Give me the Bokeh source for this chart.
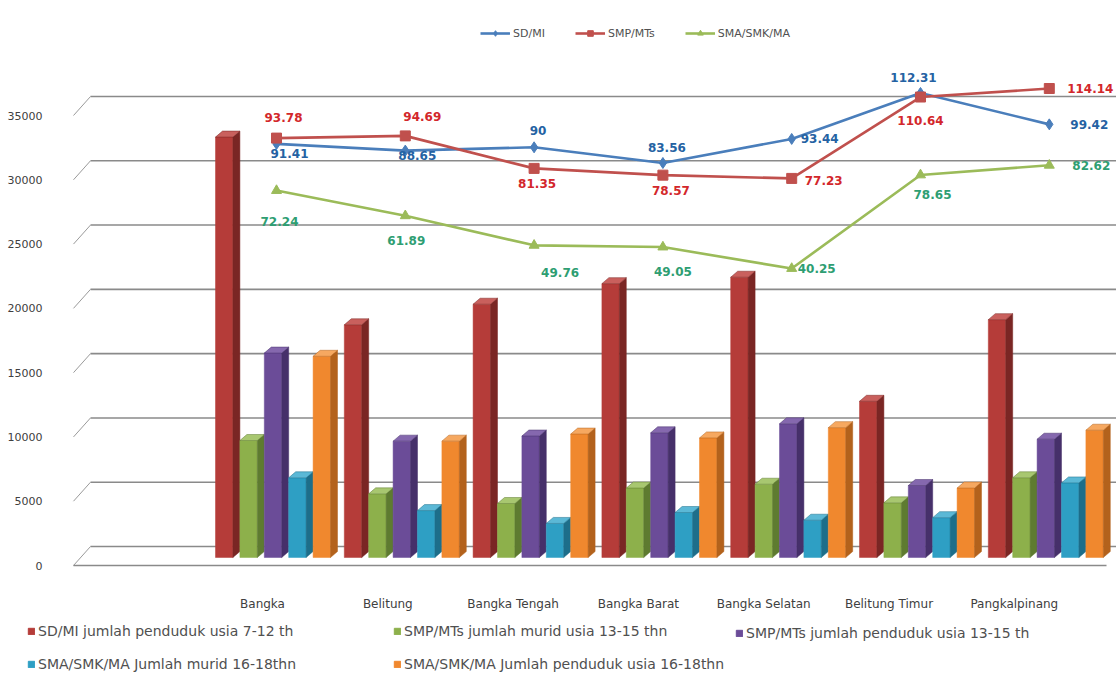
from bokeh.plotting import figure
from bokeh.layouts import column
from bokeh.models import (Range1d, LinearAxis, FixedTicker, Legend, LegendItem,
                          ColumnDataSource)
from bokeh.core.properties import value
from bokeh.embed import file_html
from bokeh.resources import INLINE

# ---------------------------------------------------------------- data
categories = ["Bangka", "Belitung", "Bangka Tengah", "Bangka Barat",
              "Bangka Selatan", "Belitung Timur", "Pangkalpinang"]

sd_pend_7_12 = [32700, 18100, 19700, 21300, 21800, 12150, 18500]
smp_murid_13_15 = [9100, 4950, 4200, 5400, 5700, 4250, 6200]
smp_pend_13_15 = [15900, 9050, 9450, 9700, 10400, 5600, 9200]
sma_murid_16_18 = [6200, 3650, 2650, 3500, 2900, 3100, 5800]
sma_pend_16_18 = [15650, 9050, 9600, 9300, 10100, 5400, 9900]

apk_sd = [91.41, 88.65, 90, 83.56, 93.44, 112.31, 99.42]
apk_smp = [93.78, 94.69, 81.35, 78.57, 77.23, 110.64, 114.14]
apk_sma = [72.24, 61.89, 49.76, 49.05, 40.25, 78.65, 82.62]

y_ticks = [0, 5000, 10000, 15000, 20000, 25000, 30000, 35000]

bar_labels = ["SD/MI jumlah penduduk usia 7-12 th",
              "SMP/MTs jumlah murid usia 13-15 thn",
              "SMP/MTs jumlah penduduk usia 13-15 th",
              "SMA/SMK/MA Jumlah murid 16-18thn",
              "SMA/SMK/MA Jumlah penduduk usia 16-18thn"]
line_labels = ["SD/MI", "SMP/MTs", "SMA/SMK/MA"]

# ---------------------------------------------------------------- layout
W = 1116
H_MAIN, H_KEY = 615, 80
FL, FT, FB = 70, 0, 570           # frame left / top / bottom in px
FW, FH = W - FL, FB - FT

X_PX = 128.8                      # px per category step
X0_PX = 276                       # px of first category centre
x_start = (FL - X0_PX) / X_PX
x_end = x_start + FW / X_PX

V_PX = 450 / 35000                # px per unit of the count axis
FLOOR_MID, FLOOR_BACK, FLOOR_FRONT = 557, 546, 565
y_start = -(FB - FLOOR_MID) / V_PX
y_end = y_start + FH / V_PX
front_start = -(FB - FLOOR_FRONT) / V_PX
back_shift = (FLOOR_MID - FLOOR_BACK) / V_PX
front_shift = (FLOOR_FRONT - FLOOR_MID) / V_PX

P_PX = 2.436                      # px per percent on the hidden ratio axis
P_ZERO = 366.05                   # px of 0 % on that axis
p_start = -(FB - P_ZERO) / P_PX
p_end = p_start + FH / P_PX

CAT_PX, CAT0_PX = 125.3, 262      # category label spacing (perspective)
cat_start = (FL - CAT0_PX) / CAT_PX
cat_end = cat_start + FW / CAT_PX


def px_to_x(px):
    return (px - X0_PX) / X_PX


FONT = value("DejaVu Sans")

p = figure(width=W, height=H_MAIN, x_range=Range1d(x_start, x_end),
           y_range=Range1d(y_start, y_end), x_axis_type=None, y_axis_type=None,
           toolbar_location=None, output_backend="svg",
           min_border_left=FL, min_border_right=0, min_border_top=FT,
           min_border_bottom=H_MAIN - FB, outline_line_color=None,
           background_fill_color="white", border_fill_color="white")
p.extra_y_ranges = {"front": Range1d(front_start, front_start + FH / V_PX),
                    "pct": Range1d(p_start, p_end)}
p.extra_x_ranges = {"cat": Range1d(cat_start, cat_end)}

# ---------------------------------------------------------------- walls
gx0, gx1 = px_to_x(90), x_end
tx0 = px_to_x(73)
p.segment(x0=[gx0] * len(y_ticks), x1=[gx1] * len(y_ticks),
          y0=[v + back_shift for v in y_ticks], y1=[v + back_shift for v in y_ticks],
          line_color="#8a8a8a", line_width=1.6)
p.segment(x0=[tx0] * len(y_ticks), x1=[gx0] * len(y_ticks),
          y0=[v - front_shift for v in y_ticks], y1=[v + back_shift for v in y_ticks],
          line_color="#9a9a9a", line_width=1)
p.segment(x0=[tx0], x1=[px_to_x(1106)], y0=[-front_shift], y1=[-front_shift],
          line_color="#8a8a8a", line_width=1.6)

# ---------------------------------------------------------------- 3-D bars
series = [sd_pend_7_12, smp_murid_13_15, smp_pend_13_15, sma_murid_16_18, sma_pend_16_18]
colors = [("#B53C39", "#7A2624", "#C9605D"),
          ("#8DB04B", "#5E7B30", "#A8C770"),
          ("#6B4C98", "#46306A", "#8568AE"),
          ("#2E9FC4", "#1D6E8A", "#5BB8D6"),
          ("#F0882E", "#B3621C", "#F6A860")]

half_group = 61 / X_PX
slot = 24.4 / X_PX
face = 17.4 / X_PX
dx = 7 / X_PX
dy = 6 / V_PX

for j, (vals, (c_front, c_side, c_top)) in enumerate(zip(series, colors)):
    lefts = [k - half_group + j * slot for k in range(len(categories))]
    rights = [l + face for l in lefts]
    src = ColumnDataSource(dict(left=lefts, right=rights, top=vals,
                                bottom=[0] * len(vals)))
    p.quad(left="left", right="right", top="top", bottom="bottom", source=src,
           fill_color=c_front, line_color=c_front, line_width=0.5)
    side_xs = [[rr, rr + dx, rr + dx, rr] for rr in rights]
    side_ys = [[0, dy, v + dy, v] for v in vals]
    p.patches(xs=side_xs, ys=side_ys, fill_color=c_side, line_color=c_side,
              line_width=0.5)
    top_xs = [[l, rr, rr + dx, l + dx] for l, rr in zip(lefts, rights)]
    top_ys = [[v, v, v + dy, v + dy] for v in vals]
    p.patches(xs=top_xs, ys=top_ys, fill_color=c_top, line_color=c_side,
              line_width=0.5)

# ---------------------------------------------------------------- ratio lines
xs = list(range(len(categories)))
line_specs = [
    (apk_sd, "#4A7EBB", "diamond", 11, "#2462A3",
     [13, 12, 4, 4, 28, -7, 40], [10, 5, -17, -15, 0, -15, 0]),
    (apk_smp, "#C0504D", "square", 10, "#D3272B",
     [7, 17, 3, 8, 32, 0, 41], [-21, -19, 15, 15, 2, 23, 0]),
    (apk_sma, "#9BBB59", "triangle", 10, "#2E9E72",
     [3, 1, 26, 10, 25, 12, 42], [31, 25, 27, 24, 0, 20, 0]),
]
line_renderers = []
for vals, lc, marker, msize, tc, xo, yo in line_specs:
    lr = p.line(xs, vals, y_range_name="pct", line_color=lc, line_width=2.6)
    mr = p.scatter(xs, vals, y_range_name="pct", marker=marker, size=msize,
                   fill_color=lc, line_color=lc)
    line_renderers.append([lr, mr])
    lsrc = ColumnDataSource(dict(x=xs, y=vals, t=[f"{v:g}" for v in vals],
                                 xo=xo, yo=yo))
    p.text(x="x", y="y", text="t", x_offset="xo", y_offset="yo", source=lsrc,
           y_range_name="pct", text_font=FONT, text_font_size="12px",
           text_font_style="bold", text_color=tc, text_align="center",
           text_baseline="middle")

# ---------------------------------------------------------------- axes
yaxis = LinearAxis(y_range_name="front", ticker=FixedTicker(ticks=y_ticks))
yaxis.axis_line_color = None
yaxis.major_tick_line_color = None
yaxis.minor_tick_line_color = None
yaxis.major_label_standoff = 22
yaxis.major_label_text_align = "center"
yaxis.major_label_text_font = "DejaVu Sans"
yaxis.major_label_text_font_size = "11px"
yaxis.major_label_text_color = "#404040"
p.add_layout(yaxis, "left")

xaxis = LinearAxis(x_range_name="cat", ticker=FixedTicker(ticks=xs),
                   major_label_overrides={i: c for i, c in enumerate(categories)})
xaxis.axis_line_color = None
xaxis.major_tick_line_color = None
xaxis.minor_tick_line_color = None
xaxis.major_label_standoff = 20
xaxis.major_label_text_font = "DejaVu Sans"
xaxis.major_label_text_font_size = "12px"
xaxis.major_label_text_color = "#404040"
p.add_layout(xaxis, "below")


def make_legend(fig, items, loc, orientation, **kw):
    lg = Legend(items=items, location=loc, orientation=orientation,
                padding=0, margin=0, border_line_alpha=0, background_fill_alpha=0,
                label_text_font="DejaVu Sans", label_text_color="#505050", **kw)
    fig.add_layout(lg)
    return lg


# series key for the ratio lines, above the plot
make_legend(p, [LegendItem(label=t, renderers=r) for t, r in zip(line_labels, line_renderers)],
            (410, FB - 40), "horizontal", label_text_font_size="11px",
            glyph_width=30, glyph_height=14, label_height=14, label_standoff=3,
            spacing=30)

# ---------------------------------------------------------------- bar key strip
key = figure(width=W, height=H_KEY, x_range=Range1d(0, 1), y_range=Range1d(0, 1),
             x_axis_type=None, y_axis_type=None, toolbar_location=None,
             output_backend="svg", min_border=0, outline_line_color=None,
             background_fill_color="white", border_fill_color="white",
             frame_align=False)
# swatch glyphs sit outside the strip's ranges; only their key entries show
key_renderers = [key.quad(left=[2], right=[3], top=[3], bottom=[2], fill_color=c[0],
                          line_color=c[0]) for c in colors]
bar_items = [LegendItem(label=t, renderers=[r]) for t, r in zip(bar_labels, key_renderers)]
common = dict(label_text_font_size="14px", glyph_width=8, glyph_height=8,
              label_height=14, label_standoff=3, spacing=17)
make_legend(key, [bar_items[0], bar_items[3]], (27, 23), "vertical", **common)
make_legend(key, [bar_items[1], bar_items[4]], (393, 23), "vertical", **common)
make_legend(key, [bar_items[2]], (735, 54), "vertical", **common)

layout = column(p, key, spacing=0)
open("out.html", "w").write(file_html(layout, INLINE))
